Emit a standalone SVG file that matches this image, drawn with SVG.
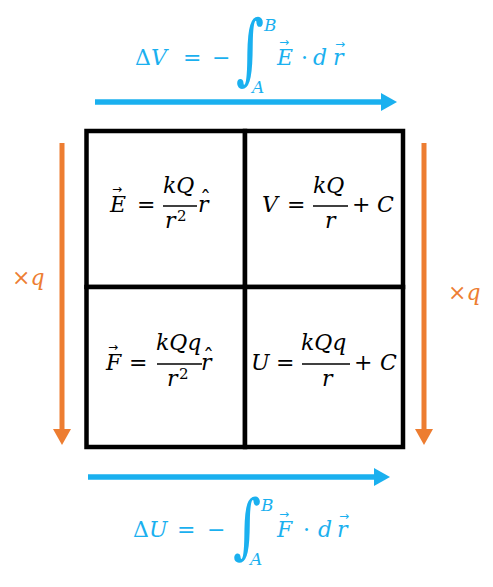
<svg xmlns="http://www.w3.org/2000/svg" width="493" height="587" viewBox="0 0 493 587">
<style>
.m{font-family:"DejaVu Serif",serif;font-size:22px;}
.i{font-style:italic;}
.s{font-size:17px;}
.sup{font-size:15px;}
.b{fill:#1AB0EF;}
.o{fill:#ED7D31;}
.k{fill:#000;}
.v{font-family:"DejaVu Sans",sans-serif;font-size:12px;}
.int{font-family:"DejaVu Serif",serif;font-style:italic;font-size:60px;}
.cell{fill:#fff;stroke:#000;stroke-width:4.5;}
.bar{stroke:#000;stroke-width:1.6;}
</style>
<defs>
<marker id="hb" markerUnits="userSpaceOnUse" markerWidth="16" markerHeight="18" refX="1" refY="9" orient="auto"><path d="M0,0 L16,9 L0,18 z" fill="#1AB0EF"/></marker>
<marker id="ho" markerUnits="userSpaceOnUse" markerWidth="16" markerHeight="18" refX="1" refY="9" orient="auto"><path d="M0,0 L16,9 L0,18 z" fill="#ED7D31"/></marker>
</defs>
<rect width="493" height="587" fill="#fff"/>
<g id="grid">
<g id="cell-E"><rect class="cell" x="86.5" y="131" width="158.5" height="156"/>
<text class="m k i" x="110" y="212">E</text>
<text class="v k" x="112" y="193">→</text>
<text class="m k" x="137" y="212">=</text>
<text class="m k i" x="163" y="193">kQ</text>
<line class="bar" x1="163" y1="206" x2="197" y2="206"/>
<text class="m k i" x="165" y="228">r</text>
<text class="m k sup" x="177" y="221">2</text>
<text class="m k i" x="198" y="212">r</text>
<text class="m k" x="200" y="207" font-size="16">ˆ</text>
</g>
<g id="cell-V"><rect class="cell" x="245" y="131" width="158" height="156"/>
<text class="m k i" x="262" y="212">V</text>
<text class="m k" x="287" y="212">=</text>
<text class="m k i" x="313" y="193">kQ</text>
<line class="bar" x1="313" y1="206" x2="348" y2="206"/>
<text class="m k i" x="325" y="228">r</text>
<text class="m k" x="352" y="212">+</text>
<text class="m k i" x="377" y="212">C</text>
</g>
<g id="cell-F"><rect class="cell" x="86.5" y="287" width="158.5" height="160"/>
<text class="m k i" x="106" y="370">F</text>
<text class="v k" x="108" y="351">→</text>
<text class="m k" x="129" y="370">=</text>
<text class="m k i" x="156" y="350">kQq</text>
<line class="bar" x1="157" y1="364" x2="202" y2="364"/>
<text class="m k i" x="167" y="386">r</text>
<text class="m k sup" x="179" y="379">2</text>
<text class="m k i" x="201" y="370">r</text>
<text class="m k" x="203" y="365" font-size="16">ˆ</text>
</g>
<g id="cell-U"><rect class="cell" x="245" y="287" width="158" height="160"/>
<text class="m k i" x="251" y="370">U</text>
<text class="m k" x="276" y="370">=</text>
<text class="m k i" x="301" y="350">kQq</text>
<line class="bar" x1="302" y1="364" x2="350" y2="364"/>
<text class="m k i" x="322" y="386">r</text>
<text class="m k" x="354" y="370">+</text>
<text class="m k i" x="380" y="370">C</text>
</g>
</g>
<g id="connectors" fill="none" stroke-linecap="butt">
<line x1="95" y1="102" x2="382" y2="102" stroke="#1AB0EF" stroke-width="5.5" marker-end="url(#hb)"/>
<line x1="88" y1="477" x2="375" y2="477" stroke="#1AB0EF" stroke-width="5.5" marker-end="url(#hb)"/>
<line x1="62" y1="143" x2="62" y2="430" stroke="#ED7D31" stroke-width="5" marker-end="url(#ho)"/>
<line x1="424" y1="143" x2="424" y2="430" stroke="#ED7D31" stroke-width="5" marker-end="url(#ho)"/>
</g>
<g id="label-top">
<text class="m b" x="135" y="65">Δ<tspan class="i">V</tspan></text>
<text class="m b" x="183" y="65">=</text>
<text class="m b" x="212" y="65">−</text>
<text class="int b" transform="translate(236,75) scale(0.9,1.28)">∫</text>
<text class="m b i s" x="264" y="31">B</text>
<text class="m b i s" x="252" y="93">A</text>
<text class="m b i" x="277" y="65">E</text>
<text class="v b" x="279" y="46">→</text>
<text class="m b" x="301" y="65">·</text>
<text class="m b i" x="313" y="65">d</text>
<text class="m b i" x="333" y="65">r</text>
<text class="v b" x="335" y="48">→</text>
</g>
<g id="label-bottom">
<text class="m b" x="133" y="537">Δ<tspan class="i">U</tspan></text>
<text class="m b" x="177" y="537">=</text>
<text class="m b" x="207" y="537">−</text>
<text class="int b" transform="translate(233,550) scale(0.9,1.18)">∫</text>
<text class="m b i s" x="261" y="511">B</text>
<text class="m b i s" x="250" y="565">A</text>
<text class="m b i" x="277" y="537">F</text>
<text class="v b" x="279" y="518">→</text>
<text class="m b" x="303" y="537">·</text>
<text class="m b i" x="318" y="537">d</text>
<text class="m b i" x="337" y="537">r</text>
<text class="v b" x="339" y="520">→</text>
</g>
<g id="label-left"><text class="m o" x="12" y="285">×<tspan class="i">q</tspan></text></g>
<g id="label-right"><text class="m o" x="448" y="300">×<tspan class="i">q</tspan></text></g>
</svg>
